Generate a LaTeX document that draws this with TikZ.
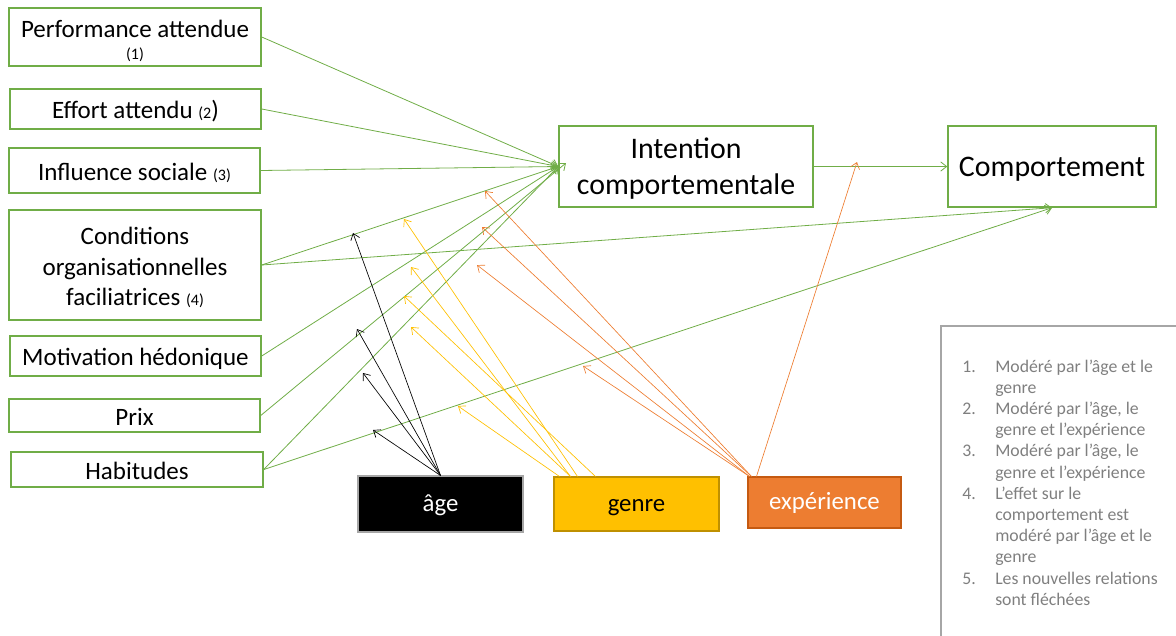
\documentclass[tikz,border=0pt]{standalone}
\usepackage{fontspec}
\setmainfont{Carlito}
\usetikzlibrary{arrows.meta}
\definecolor{vgreen}{HTML}{70AD47}
\definecolor{gold}{HTML}{FFC000}
\definecolor{golddark}{HTML}{BF9000}
\definecolor{orng}{HTML}{ED7D31}
\definecolor{orngdark}{HTML}{C55A11}
\definecolor{leggray}{HTML}{7F7F7F}
\definecolor{legline}{HTML}{A6A6A6}
\newcommand\smallp[1]{{\fontsize{12}{14}\selectfont #1}}
\begin{document}
\begin{tikzpicture}[x=0.75pt,y=-0.75pt,
  factor/.style={draw=vgreen, line width=1.1pt, inner sep=0pt, align=center,
    font=\fontsize{18.75}{22.9}\selectfont},
  oneline/.style={text height=16.9pt, text depth=2.6pt},
  mainbox/.style={draw=vgreen, line width=1.1pt, inner sep=0pt, align=center,
    font=\fontsize{22.4}{27}\selectfont},
  modbox/.style={inner sep=0pt, line width=0.8pt, text height=14pt, text depth=3.5pt,
    font=\fontsize{18.6}{22}\selectfont},
  tip/.style={-{Straight Barb[length=4.5pt,width=7pt]}},
  garrow/.style={tip, draw=vgreen, line width=0.6pt},
  barrow/.style={tip, draw=black, line width=0.5pt},
  yarrow/.style={tip, draw=gold, line width=0.5pt},
  oarrow/.style={tip, draw=orng, line width=0.5pt},
  legendtext/.style={inner sep=0pt, text=leggray, font=\fontsize{13.3}{15.9}\selectfont}
]
\useasboundingbox (0,0) rectangle (1176,635);

% factor boxes
\node[factor, minimum width=189pt, minimum height=43.5pt] (perf) at (135,37)
  {\rule{0pt}{1.0em}Performance attendue\\[-6.4pt]\smallp{(1)}};
\node[factor, oneline, minimum width=188.25pt, minimum height=30pt] (effort) at (135.5,109)
  {Effort attendu \smallp{(2}{)}};
\node[factor, oneline, minimum width=188.25pt, minimum height=33.75pt] (infl) at (134.5,170.5)
  {Influence sociale \smallp{(3)}};
\node[factor, minimum width=189pt, minimum height=82.5pt] (cond) at (135,265)
  {\rule{0pt}{0.92em}Conditions\\organisationnelles\\faciliatrices \smallp{(4)}};
\node[factor, oneline, minimum width=188.25pt, minimum height=30pt] (motiv) at (135.5,356)
  {Motivation hédonique};
\node[factor, oneline, minimum width=188.25pt, minimum height=24.75pt] (prix) at (134.5,415.5)
  {Prix};
\node[factor, oneline, minimum width=189pt, minimum height=26.25pt] (habit) at (137,469.5)
  {Habitudes};

% main boxes
\node[mainbox, minimum width=190.5pt, minimum height=60.75pt] (int) at (686,166.5)
  {\rule{0pt}{0.85em}Intention\\comportementale};
\node[mainbox, text height=20.2pt, text depth=4.5pt, minimum width=156pt, minimum height=60.75pt] (comp) at (1052,166.5)
  {Comportement};

% moderators
\node[modbox, fill=black, draw=legline, text=white, minimum width=123.75pt, minimum height=42pt] (age) at (440.5,504) {âge};
\node[modbox, fill=gold, draw=golddark, text=black, minimum width=123.75pt, minimum height=40.5pt] (genre) at (636.5,504) {genre};
\node[modbox, fill=orng, draw=orngdark, text=white, minimum width=114.75pt, minimum height=38.25pt] (exp) at (824.5,502.5) {expérience};

% legend
\draw[legline, line width=0.8pt] (941,640) |- (1180,326);
\node[legendtext, anchor=base west] (leg) at (962,372) {%
\begin{tabular}[t]{@{}p{24.75pt}@{}l@{}}
1. & Modéré par l’âge et le\\
   & genre\\
2. & Modéré par l’âge, le\\
   & genre et l’expérience\\
3. & Modéré par l’âge, le\\
   & genre et l’expérience\\
4. & L’effet sur le\\
   & comportement est\\
   & modéré par l’âge et le\\
   & genre\\
5. & Les nouvelles relations\\
   & sont fléchées
\end{tabular}};

% green connectors
\coordinate (intP) at (566,163);
\draw[garrow] (perf.east) -- (int.west);
\draw[garrow] (effort.east) -- (int.west);
\draw[garrow] (infl.east) -- (int.west);
\draw[garrow] (cond.east) -- (int.west);
\draw[garrow] (cond.east) -- (comp.south);
\draw[garrow] (motiv.east) -- (int.west);
\draw[garrow] (prix.east) -- (intP);
\draw[garrow] (habit.east) -- (int.west);
\draw[garrow] (habit.east) -- (comp.south);
\draw[garrow] (int.east) -- (comp.west);

% moderation targets
\coordinate (b1) at (353,233);
\coordinate (b2) at (357,329);
\coordinate (b3) at (363,373);
\coordinate (b4) at (373,430);
\coordinate (y1) at (404,219);
\coordinate (y2) at (411,267);
\coordinate (y3) at (404,296);
\coordinate (y4) at (411,327);
\coordinate (y5) at (458,406);
\coordinate (o1) at (485,191);
\coordinate (o2) at (482,227);
\coordinate (o3) at (477,265);
\coordinate (o4) at (583,366);
\coordinate (o5) at (857,162);

% age
\draw[barrow] (age.north) -- (b1);
\draw[barrow] (age.north) -- (b2);
\draw[barrow] (age.north) -- (b3);
\draw[barrow] (age.north) -- (b4);
% genre
\draw[yarrow] ([xshift=18pt]genre.north west) -- (y1);
\draw[yarrow] ([xshift=12.75pt]genre.north west) -- (y2);
\draw[yarrow] ([xshift=31.5pt]genre.north west) -- (y3);
\draw[yarrow] ([xshift=12.75pt]genre.north west) -- (y4);
\draw[yarrow] ([xshift=4.5pt]genre.north west) -- (y5);
% experience
\draw[oarrow] ([xshift=3pt]exp.north west) -- (o1);
\draw[oarrow] ([xshift=3pt]exp.north west) -- (o2);
\draw[oarrow] ([xshift=1.5pt]exp.north west) -- (o3);
\draw[oarrow] ([xshift=1.5pt]exp.north west) -- (o4);
\draw[oarrow] ([xshift=6.75pt]exp.north west) -- (o5);
\end{tikzpicture}
\end{document}
